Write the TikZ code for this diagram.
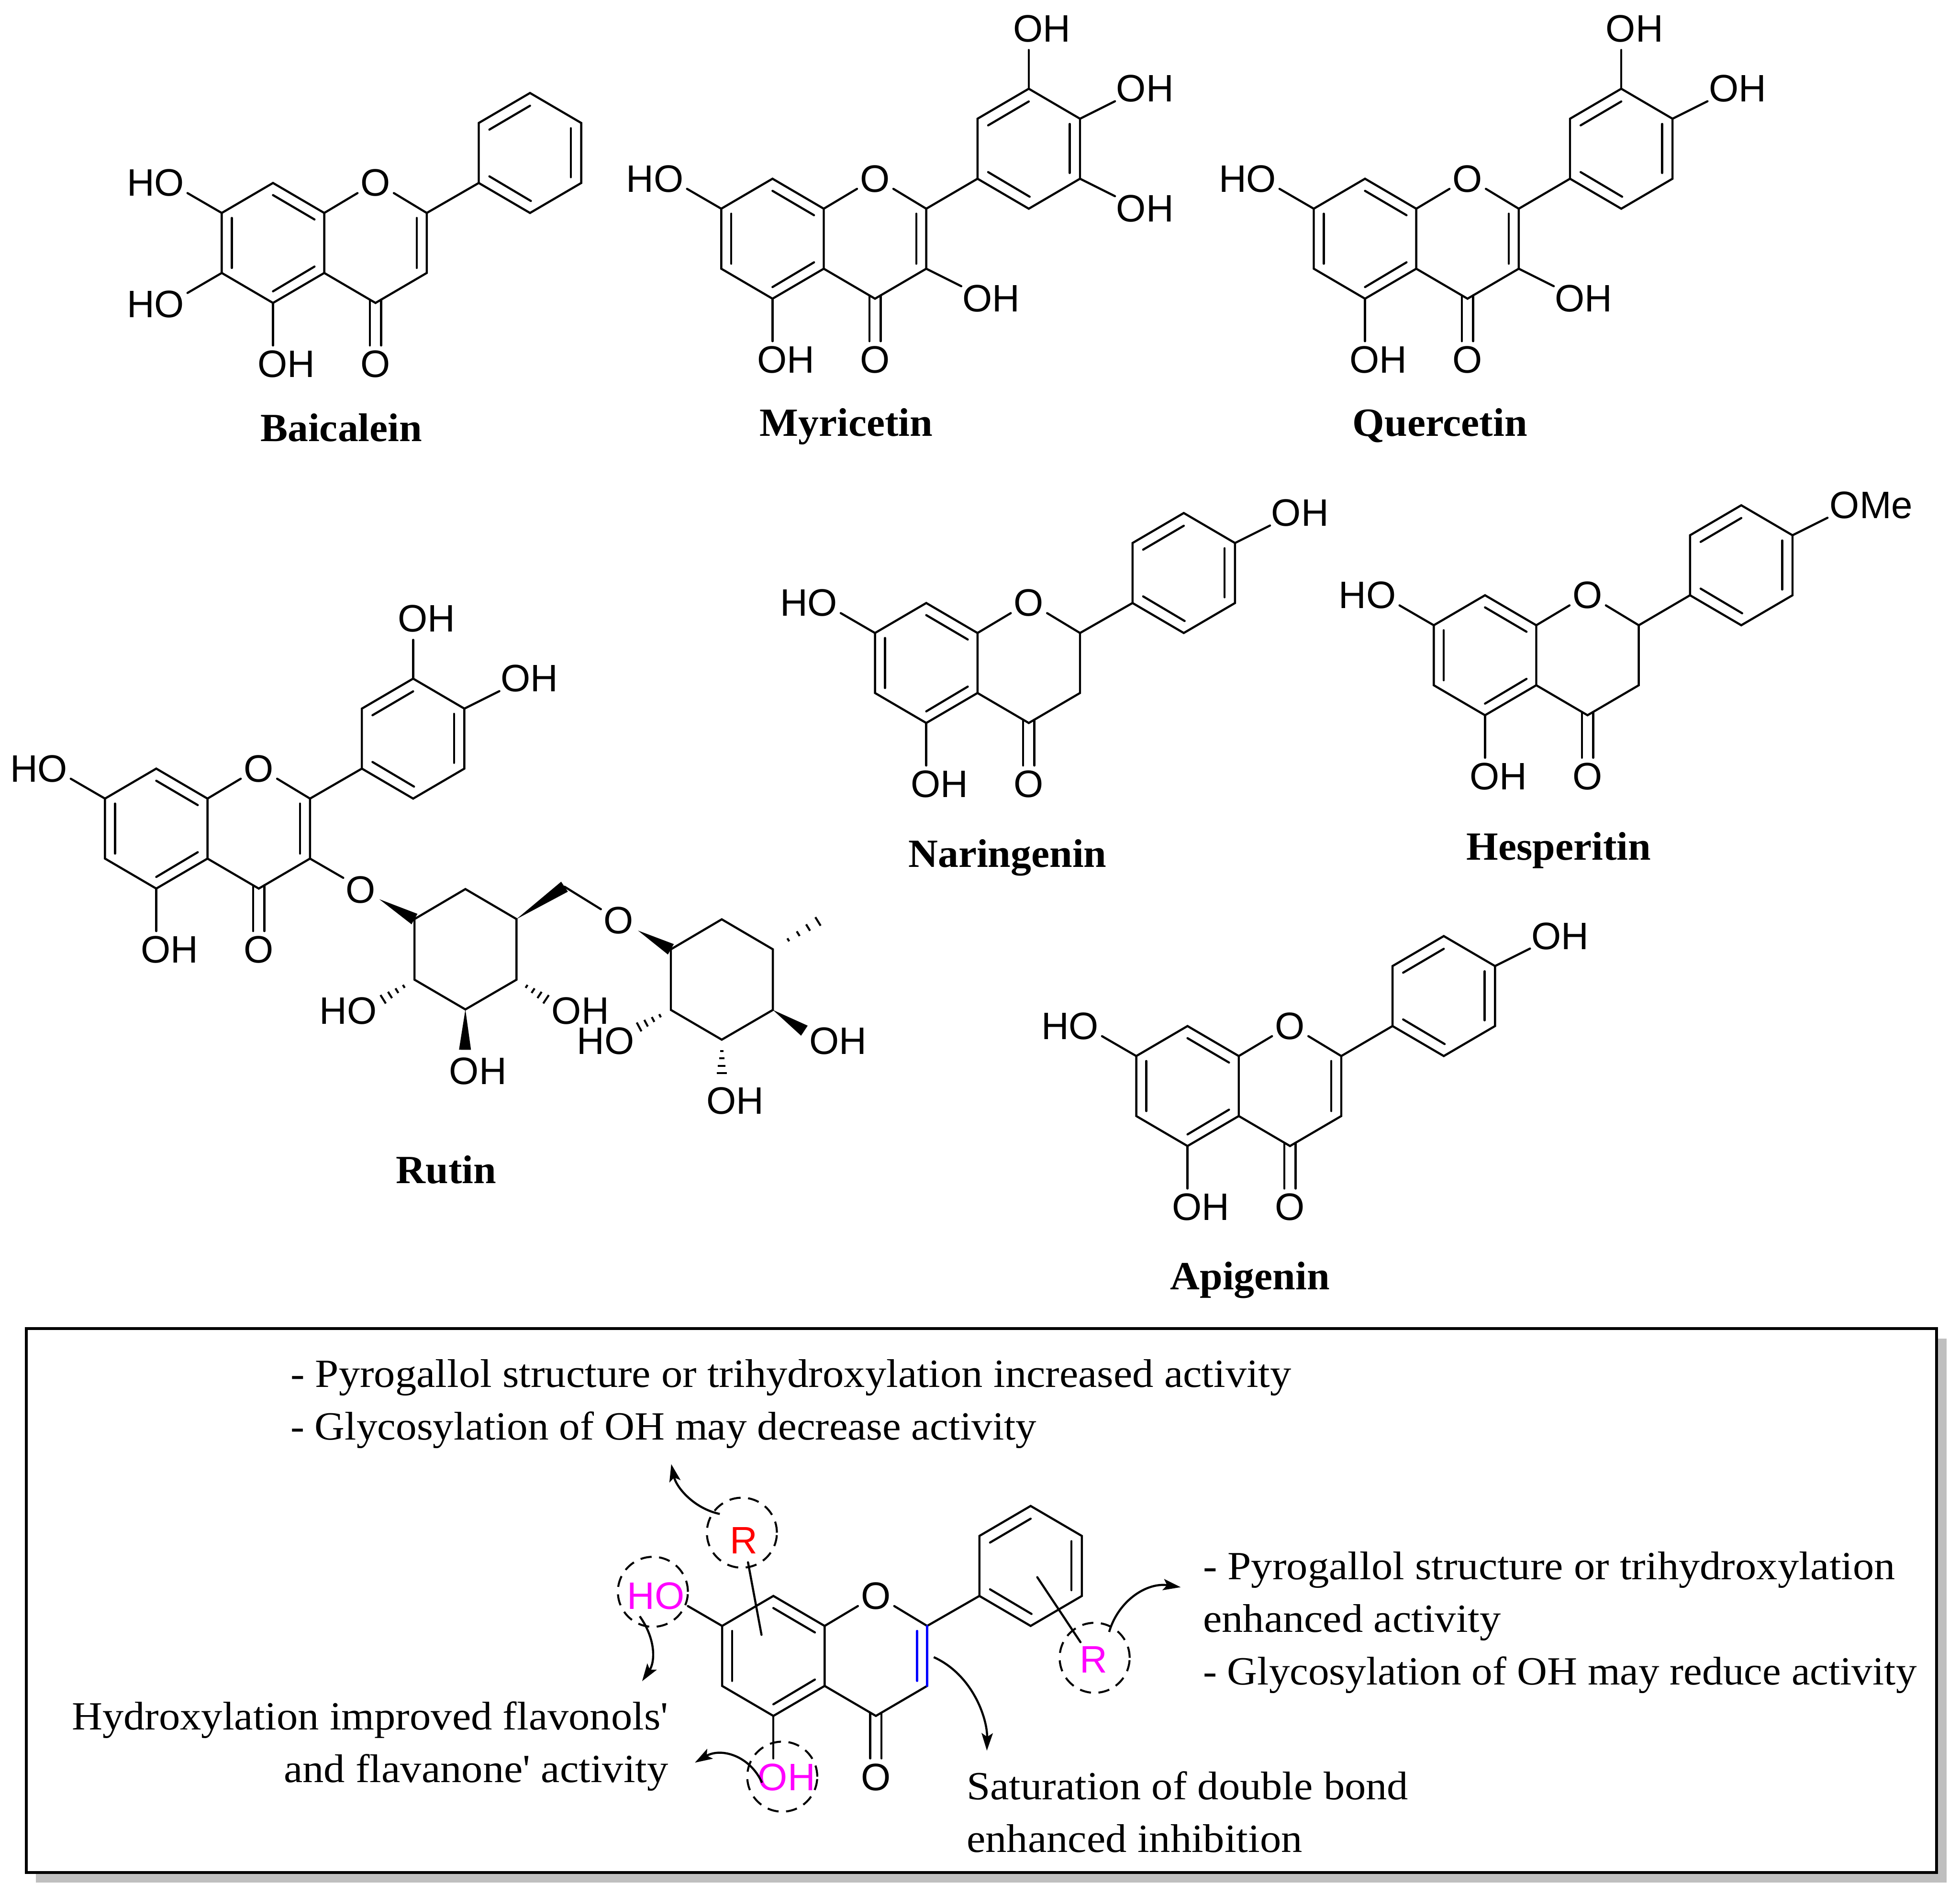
\documentclass[tikz,border=0pt]{standalone}
\usepackage{fontspec}
\usetikzlibrary{calc,arrows.meta}
\newfontfamily\chemfont{Liberation Sans}
\newfontfamily\palfont[FakeStretch=1.06]{Liberation Serif}
\newfontfamily\palglyc[FakeStretch=1.043]{Liberation Serif}
\newfontfamily\palbold[FakeStretch=1.025]{Liberation Serif}
\definecolor{hotmag}{RGB}{255,0,255}
\definecolor{purered}{RGB}{255,0,0}
\definecolor{pureblue}{RGB}{0,0,255}
\tikzset{
	bond/.style={line width=.85pt, line cap=round},
	atom/.style={font=\chemfont\fontsize{15.3}{17}\selectfont, inner sep=0pt},
	txt/.style={font=\palfont\fontsize{16}{18}\selectfont, inner sep=0pt, anchor=base west},
	txtg/.style={txt, font=\palglyc\fontsize{16}{18}\selectfont},
	title/.style={font=\palbold\bfseries\fontsize{16}{18}\selectfont, inner sep=0pt, anchor=base},
	dashcirc/.style={draw, circle, dash pattern=on 4.5pt off 3pt, line width=.8pt, minimum size=28pt, inner sep=0pt},
	curved/.style={line width=.85pt, -{Stealth[length=7pt,width=4.5pt,inset=1.5pt]}}
}
\newcommand{\atomlabel}[5]{
	\coordinate (#1-end) at ($ (#2) + #3 $);
	\node[atom] (#1) at ($ (#2) + #4 $) {#5};
	\draw[bond] (#2) -- (#1-end);
}
\newcommand{\flavcore}[2]{
	\begin{scope}[shift={#2}]
		\coordinate (#1-c8a) at (-41,24);
		\coordinate (#1-c8) at (-82,0);
		\coordinate (#1-c7) at (-123,24);
		\coordinate (#1-c6) at (-123,72);
		\coordinate (#1-c5) at (-82,96);
		\coordinate (#1-c4a) at (-41,72);
		\coordinate (#1-c4) at (0,96);
		\coordinate (#1-c3) at (41,72);
		\coordinate (#1-c2) at (41,24);
		\coordinate (#1-o1l) at (-14.4,8.1);
		\coordinate (#1-o1r) at (14.7,8.1);
		\node[atom] (#1-o1) at (0,0) {O};
		\node[atom] (#1-o4) at (0,145) {O};
		\draw[bond] (#1-c8a) -- (#1-c8) -- (#1-c7) -- (#1-c6) -- (#1-c5) -- (#1-c4a) -- cycle;
		\draw[bond] (#1-o1l) -- (#1-c8a);
		\draw[bond] (#1-c4a) -- (#1-c4) -- (#1-c3) -- (#1-c2) -- (#1-o1r);
		\draw[bond] (-115,28) -- (-115,68);
		\draw[bond] (-82,9.7) -- (-48.8,29.2);
		\draw[bond] (-48.8,66.9) -- (-82,86.7);
		\draw[bond] (-4.5,93.4) -- (-4.5,130);
		\draw[bond] (4.5,93.4) -- (4.5,130);
	\end{scope}
}
\newcommand{\ringb}[2]{
	\begin{scope}[shift={#2}]
		\coordinate (#1-b1) at (0,0);
		\coordinate (#1-b2) at (0,-48);
		\coordinate (#1-b3) at (41,-72);
		\coordinate (#1-b4) at (82,-48);
		\coordinate (#1-b5) at (82,0);
		\coordinate (#1-b6) at (41,24);
		\draw[bond] (#1-b1) -- (#1-b2) -- (#1-b3) -- (#1-b4) -- (#1-b5) -- (#1-b6) -- cycle;
		\draw[bond] (8.5,-42.7) -- (41,-61.8);
		\draw[bond] (73.7,-43.8) -- (73.7,-4.6);
		\draw[bond] (8.5,-5.3) -- (41.7,14.4);
	\end{scope}
	\draw[bond] (#1-c2) -- (#1-b1);
}
\newcommand{\sugar}[2]{
	\begin{scope}[shift={#2}]
		\coordinate (#1-s1) at (0,0);
		\coordinate (#1-s2) at (40.7,-24);
		\coordinate (#1-s3) at (81.6,0);
		\coordinate (#1-s4) at (81.6,48.5);
		\coordinate (#1-s5) at (40.7,72.3);
		\coordinate (#1-s6) at (0,48.5);
		\draw[bond] (#1-s1) -- (#1-s2) -- (#1-s3) -- (#1-s4) -- (#1-s5) -- (#1-s6) -- cycle;
	\end{scope}
}
\newcommand{\ctwoene}[1]{
	\draw[bond] ($ (#1-c2) + (-8,4) $) -- ($ (#1-c3) + (-8,-4) $);
}
\newcommand{\wedgebond}[2]{
	\fill #1 -- ($ #2!2.4pt!90:#1 $) -- ($ #2!2.4pt!-90:#1 $) -- cycle;
}
\newcommand{\hashbond}[2]{
	\foreach \t/\w in {.28/.7,.46/1.1,.64/1.5,.82/2,1/2.5} {
		\draw[line width=.8pt] ($ #1!\t!#2!\w pt!90:#2 $) -- ($ #1!\t!#2!\w pt!-90:#2 $);
	}
}
\begin{document}
\begin{tikzpicture}[x=.5pt,y=-.5pt]
	\fill[white] (0,0) rectangle (1568,1516);
	\useasboundingbox (0,0) rectangle (1568,1516);
%
	% Baicalein
	\flavcore{bai}{(300.4,146.4)}
	\ctwoene{bai}
	\ringb{bai}{(383,146.4)}
	\atomlabel{bai-ho7}{bai-c7}{(-27.4,-15.9)}{(-53,-24)}{HO}
	\atomlabel{bai-ho6}{bai-c6}{(-27.4,16)}{(-53,25)}{HO}
	\atomlabel{bai-oh5}{bai-c5}{(0,34)}{(10.6,49)}{OH}
	\node[title] (bai-name) at (273,353.3) {Baicalein};
%
	% Myricetin
	\flavcore{myr}{(700,143)}
	\ctwoene{myr}
	\ringb{myr}{(782,143)}
	\atomlabel{myr-ho7}{myr-c7}{(-27.4,-15.9)}{(-53,-24)}{HO}
	\atomlabel{myr-oh5}{myr-c5}{(0,34)}{(10.6,49)}{OH}
	\atomlabel{myr-oh3}{myr-c3}{(28,14)}{(52,24)}{OH}
	\atomlabel{myr-ohc}{myr-b3}{(0,-31)}{(10.6,-48)}{OH}
	\atomlabel{myr-ohd}{myr-b4}{(28,-14)}{(52,-24)}{OH}
	\atomlabel{myr-ohe}{myr-b5}{(28,14)}{(52,24)}{OH}
	\node[title] (myr-name) at (677,349) {Myricetin};
%
	% Quercetin
	\flavcore{que}{(1174,143)}
	\ctwoene{que}
	\ringb{que}{(1256,143)}
	\atomlabel{que-ho7}{que-c7}{(-27.4,-15.9)}{(-53,-24)}{HO}
	\atomlabel{que-oh5}{que-c5}{(0,34)}{(10.6,49)}{OH}
	\atomlabel{que-oh3}{que-c3}{(28,14)}{(52,24)}{OH}
	\atomlabel{que-ohc}{que-b3}{(0,-31)}{(10.6,-48)}{OH}
	\atomlabel{que-ohd}{que-b4}{(28,-14)}{(52,-24)}{OH}
	\node[title] (que-name) at (1152,349) {Quercetin};
%
	% Rutin
	\flavcore{rut}{(207,615)}
	\ctwoene{rut}
	\ringb{rut}{(289.5,615)}
	\atomlabel{rut-ho7}{rut-c7}{(-27.4,-15.9)}{(-53,-24)}{HO}
	\atomlabel{rut-oh5}{rut-c5}{(0,34)}{(10.6,49)}{OH}
	\atomlabel{rut-ohc}{rut-b3}{(0,-31)}{(10.6,-48)}{OH}
	\atomlabel{rut-ohd}{rut-b4}{(28,-14)}{(52,-24)}{OH}
	\atomlabel{rut-o3}{rut-c3}{(26.6,15.4)}{(40.4,25.2)}{O}
	\sugar{rua}{(331.6,735.4)}
	\sugar{rub}{(536.7,759.6)}
	\coordinate (rut-o3w) at (303.4,719.5);
	\wedgebond{(rut-o3w)}{(rua-s1)}
	\coordinate (rut-ch2) at (451.6,709.5);
	\wedgebond{(rua-s3)}{(rut-ch2)}
	\coordinate (rut-o6e) at (480.7,727.5);
	\draw[bond] (rut-ch2) -- (rut-o6e);
	\node[atom] (rut-o6) at (494.9,736.6) {O};
	\coordinate (rut-o6w) at (510.4,744.6);
	\wedgebond{(rut-o6w)}{(rub-s1)}
%
	\node[atom] (rua-ho2) at (278.5,808.8) {HO};
	\coordinate (rua-ho2e) at (301,803);
	\hashbond{(rua-s6)}{(rua-ho2e)}
	\node[atom] (rua-oh3) at (382.4,857) {OH};
	\coordinate (rua-oh3e) at (372,840);
	\wedgebond{(rua-s5)}{(rua-oh3e)}
	\node[atom] (rua-oh4) at (464.3,808.8) {OH};
	\coordinate (rua-oh4e) at (442,803);
	\hashbond{(rua-s4)}{(rua-oh4e)}
%
	\node[atom] (rub-ho2) at (484.5,833) {HO};
	\coordinate (rub-ho2e) at (505.7,824.7);
	\hashbond{(rub-s6)}{(rub-ho2e)}
	\node[atom] (rub-oh3) at (588,881) {OH};
	\coordinate (rub-oh3e) at (577.4,864.5);
	\hashbond{(rub-s5)}{(rub-oh3e)}
	\node[atom] (rub-oh4) at (670.3,833) {OH};
	\coordinate (rub-oh4e) at (643.5,824.7);
	\wedgebond{(rub-s4)}{(rub-oh4e)}
	\coordinate (rub-me) at (662.3,732.4);
	\hashbond{(rub-s3)}{(rub-me)}
	\node[title] (rut-name) at (357,947) {Rutin};
%
	% Naringenin
	\flavcore{nar}{(823,482.5)}
	\ringb{nar}{(906,482.5)}
	\atomlabel{nar-ho7}{nar-c7}{(-27.4,-15.9)}{(-53,-24)}{HO}
	\atomlabel{nar-oh5}{nar-c5}{(0,34)}{(10.6,49)}{OH}
	\atomlabel{nar-ohd}{nar-b4}{(28,-14)}{(52,-24)}{OH}
	\node[title] (nar-name) at (806,694) {Naringenin};
%
	% Hesperitin
	\flavcore{hes}{(1270,476.3)}
	\ringb{hes}{(1352,476.3)}
	\atomlabel{hes-ho7}{hes-c7}{(-27.4,-15.9)}{(-53,-24)}{HO}
	\atomlabel{hes-oh5}{hes-c5}{(0,34)}{(10.6,49)}{OH}
	\atomlabel{hes-ome}{hes-b4}{(28,-14)}{(63,-24)}{OMe}
	\node[title] (hes-name) at (1247,688) {Hesperitin};
%
	% Apigenin
	\flavcore{api}{(1032,821)}
	\ctwoene{api}
	\ringb{api}{(1114,821)}
	\atomlabel{api-ho7}{api-c7}{(-27.4,-15.9)}{(-53,-24)}{HO}
	\atomlabel{api-oh5}{api-c5}{(0,34)}{(10.6,49)}{OH}
	\atomlabel{api-ohd}{api-b4}{(28,-14)}{(52,-24)}{OH}
	\node[title] (api-name) at (1000,1032) {Apigenin};
%
	% box with its shadow
	\fill[black!25] (28.8,1071) rectangle (1557.4,1506.5);
	\draw[line width=1.1pt, fill=white] (21,1063.1) rectangle (1549.2,1498.3);
%
	\flavcore{sar}{(700.7,1277)}
	\ringb{sar}{(783.5,1277)}
	\draw[bond,pureblue] (sar-c2) -- (sar-c3);
	\draw[bond,pureblue] ($ (sar-c2) + (-8,4) $) -- ($ (sar-c3) + (-8,-4) $);
	\atomlabel{sar-ho7}{sar-c7}{(-27.4,-15.9)}{(-53,-24)}{\textcolor{hotmag}{HO}}
	\atomlabel{sar-oh5}{sar-c5}{(0,34)}{(10.6,49)}{\textcolor{hotmag}{OH}}
%
	\node[atom] (sar-ra) at (595,1232.6) {\textcolor{purered}{R}};
	\node[atom] (sar-rb) at (874.9,1328) {\textcolor{hotmag}{R}};
	\node[dashcirc] (cira) at (593.5,1226.4) {};
	\node[dashcirc] (cirb) at (875.7,1326.5) {};
	\node[dashcirc] (circ) at (522.3,1273.7) {};
	\node[dashcirc] (cird) at (625.8,1421.6) {};
	\coordinate (ra-s) at (598.4,1250.1);
	\coordinate (ra-t) at (609.2,1308.1);
	\coordinate (rb-s) at (829.8,1262);
	\coordinate (rb-t) at (864.4,1314);
	\draw[bond] (ra-s) -- (ra-t);
	\draw[bond] (rb-s) -- (rb-t);
%
	% curved arrows
	\coordinate (arra-s) at (575.8,1211.4);
	\coordinate (arra-t) at (537,1171.5);
	\draw[curved] (arra-s) .. controls (555,1207) and (541,1190) .. (arra-t);
	\coordinate (arrb-s) at (511.8,1293.3);
	\coordinate (arrb-t) at (513.7,1345.2);
	\draw[curved] (arrb-s) .. controls (525,1312) and (524,1330) .. (arrb-t);
	\coordinate (arrc-s) at (609.6,1426.4);
	\coordinate (arrc-t) at (555.9,1410.4);
	\draw[curved] (arrc-s) .. controls (600,1405) and (577,1398) .. (arrc-t);
	\coordinate (arrd-s) at (747,1326);
	\coordinate (arrd-t) at (789.5,1400.8);
	\draw[curved] (arrd-s) .. controls (778,1340) and (790,1375) .. (arrd-t);
	\coordinate (arre-s) at (887.3,1305.8);
	\coordinate (arre-t) at (944.5,1270);
	\draw[curved] (arre-s) .. controls (895,1280) and (918,1266) .. (arre-t);
%
	% texts
	\node[txt] (ta) at (232,1110) {- Pyrogallol structure or trihydroxylation increased activity};
	\node[txtg] (tb) at (232,1152) {- Glycosylation of OH may decrease activity};
	\node[txt] (tc) at (962,1264) {- Pyrogallol structure or trihydroxylation};
	\node[txt] (td) at (962,1306) {enhanced activity};
	\node[txtg] (te) at (962,1348) {- Glycosylation of OH may reduce activity};
	\node[txt,anchor=base east] (tf) at (535,1384) {Hydroxylation improved flavonols'};
	\node[txt,anchor=base east] (tg) at (535,1426) {and flavanone' activity};
	\node[txt] (th) at (773,1440) {Saturation of double bond};
	\node[txt] (ti) at (773,1482) {enhanced inhibition};
\end{tikzpicture}
\end{document}
